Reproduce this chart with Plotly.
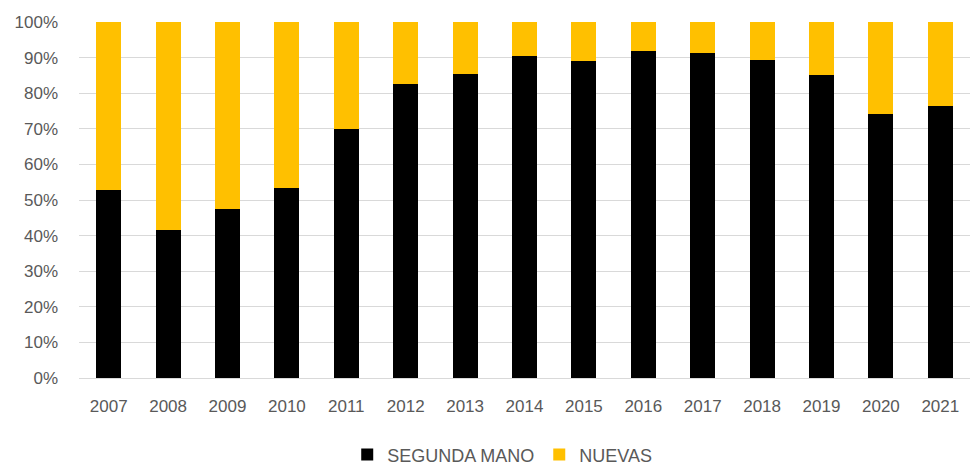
import plotly.graph_objects as go

years = ["2007", "2008", "2009", "2010", "2011", "2012", "2013", "2014",
         "2015", "2016", "2017", "2018", "2019", "2020", "2021"]
segunda_mano = [52.8, 41.6, 47.5, 53.3, 69.9, 82.5, 85.4, 90.4,
                89.0, 91.8, 91.4, 89.2, 85.1, 74.1, 76.4]
nuevas = [47.2, 58.4, 52.5, 46.7, 30.1, 17.5, 14.6, 9.6,
          11.0, 8.2, 8.6, 10.8, 14.9, 25.9, 23.6]

y_ticks = [0, 10, 20, 30, 40, 50, 60, 70, 80, 90, 100]
y_tick_labels = [f"{v}%" for v in y_ticks]

FONT = "Liberation Sans"
GRAY = "#595959"

fig = go.Figure()
fig.add_trace(go.Bar(x=years, y=segunda_mano, name="SEGUNDA MANO",
                     marker=dict(color="#000000", line=dict(width=0))))
fig.add_trace(go.Bar(x=years, y=nuevas, name="NUEVAS",
                     marker=dict(color="#FFC000", line=dict(width=0))))

fig.update_layout(
    width=973, height=467,
    barmode="stack", bargap=0.58,
    plot_bgcolor="white", paper_bgcolor="white",
    margin=dict(l=79, r=3, t=22, b=89, autoexpand=False),
    font=dict(family=FONT, size=17, color=GRAY),
    showlegend=True,
    legend=dict(orientation="h", x=0.475, xanchor="center",
                yref="container", y=0.026, yanchor="middle",
                font=dict(family=FONT, size=18, color=GRAY),
                itemwidth=30, traceorder="normal"),
    xaxis=dict(showgrid=False, showline=False, ticks="", tickfont=dict(size=17, color=GRAY),
               ticklabelstandoff=16),
    yaxis=dict(range=[0, 100], tickvals=y_ticks, ticktext=y_tick_labels,
               showgrid=True, gridcolor="#d9d9d9", gridwidth=1.3,
               zeroline=True, zerolinecolor="#d9d9d9", zerolinewidth=1.3,
               showline=False, ticks="", ticklabelstandoff=20,
               tickfont=dict(size=17, color=GRAY)),
)

fig.write_html("out.html")
